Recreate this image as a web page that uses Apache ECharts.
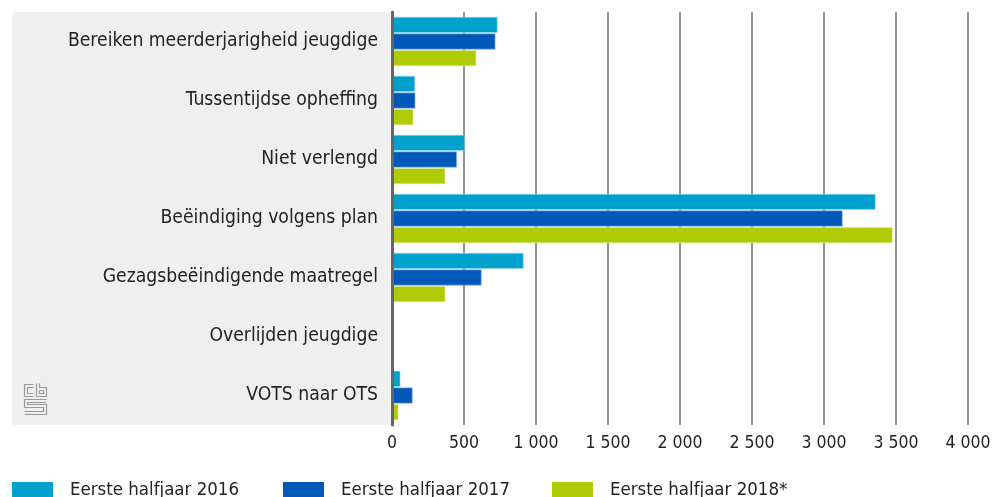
<!DOCTYPE html>
<html>
<head>
<meta charset="utf-8">
<script src="https://cdn.jsdelivr.net/npm/echarts@6/dist/echarts.min.js"></script>
<style>
  html, body { margin: 0; padding: 0; background: #fff; }
  #chart { width: 999px; height: 497px; }
</style>
</head>
<body>
<div id="chart"></div>
<script>
var categories = [
    'Bereiken meerderjarigheid jeugdige',
    'Tussentijdse opheffing',
    'Niet verlengd',
    'Beëindiging volgens plan',
    'Gezagsbeëindigende maatregel',
    'Overlijden jeugdige',
    'VOTS naar OTS'
];
var seriesNames = ['Eerste halfjaar 2016', 'Eerste halfjaar 2017', 'Eerste halfjaar 2018*'];
var h2016 = [733, 160, 507, 3358, 914, 0, 58];
var h2017 = [718, 162, 451, 3129, 622, 0, 143];
var h2018 = [585, 148, 370, 3476, 370, 0, 44];
var colors = ['#00a1cd', '#0058b8', '#afcb05'];
var rims = ['#a6dfef', '#99bbe6', '#e0eba0'];

var font = '"Liberation Sans Narrow", "DejaVu Sans Condensed", "Roboto", sans-serif';

function fmt(v) {
    return String(v).replace(/\B(?=(\d{3})+(?!\d))/g, ' ');
}

var chart = echarts.init(document.getElementById('chart'));

var seriesData = [h2016, h2017, h2018];
var series = seriesData.map(function (d, i) {
    return {
        name: seriesNames[i],
        type: 'bar',
        data: d,
        barWidth: 16,
        barGap: '4%',
        itemStyle: {
            color: colors[i],
            borderColor: rims[i],
            borderWidth: 0.6
        },
        z: 3
    };
});

var legends = seriesNames.map(function (n, i) {
    return {
        data: [n],
        left: [12, 283, 552][i],
        top: 481,
        padding: 0,
        itemWidth: 41,
        itemHeight: 17,
        itemGap: 0,
        icon: 'rect',
        itemStyle: { borderWidth: 0 },
        textStyle: { fontFamily: font, fontSize: 18.5, color: '#222', padding: [0, 0, 0, 12] }
    };
});

// cbs logo, drawn as thin outline strokes
var logoStroke = { stroke: '#9a9a9a', lineWidth: 1.2, fill: null };
var logo = {
    type: 'group',
    left: 22,
    top: 381,
    children: [
        { type: 'polyline', shape: { points: [[10, 1], [1, 1], [1, 13], [10, 13]] }, style: logoStroke },
        { type: 'polyline', shape: { points: [[10, 4], [4, 4], [4, 10], [10, 10]] }, style: logoStroke },
        { type: 'polyline', shape: { points: [[13, 0], [13, 13], [23, 13], [23, 4], [16, 4], [16, 0]] }, style: logoStroke },
        { type: 'rect', shape: { x: 16, y: 7, width: 4, height: 3 }, style: logoStroke },
        { type: 'polyline', shape: { points: [[23, 16], [1, 16], [1, 24], [20, 24], [20, 28], [1, 28]] }, style: logoStroke },
        { type: 'polyline', shape: { points: [[23, 19], [4, 19], [4, 21], [23, 21], [23, 31], [1, 31]] }, style: logoStroke }
    ]
};

var option = {
    backgroundColor: '#fff',
    animation: false,
    color: colors,
    legend: legends,
    graphic: [
        {
            type: 'rect',
            left: 12,
            top: 12,
            z: -10,
            shape: { width: 382, height: 413, r: [4, 0, 0, 4] },
            style: { fill: '#efefef' }
        },
        logo
    ],
    grid: { left: 392, right: 31, top: 12, bottom: 72, containLabel: false },
    xAxis: {
        type: 'value',
        min: 0,
        max: 4000,
        interval: 500,
        axisLine: { show: false },
        axisTick: { show: false },
        splitLine: { show: true, lineStyle: { color: '#6f6f6f', width: 1.5 } },
        axisLabel: {
            formatter: fmt,
            fontFamily: font,
            fontSize: 17.5,
            color: '#222',
            margin: 9
        }
    },
    yAxis: {
        type: 'category',
        data: categories,
        inverse: true,
        axisLine: { show: true, lineStyle: { color: '#666', width: 3 } },
        axisTick: { show: false },
        axisLabel: {
            fontFamily: font,
            fontSize: 19.2,
            color: '#222',
            margin: 14,
            padding: [2, 0, 0, 0]
        },
        z: 5
    },
    series: series
};

chart.setOption(option);
</script>
</body>
</html>
